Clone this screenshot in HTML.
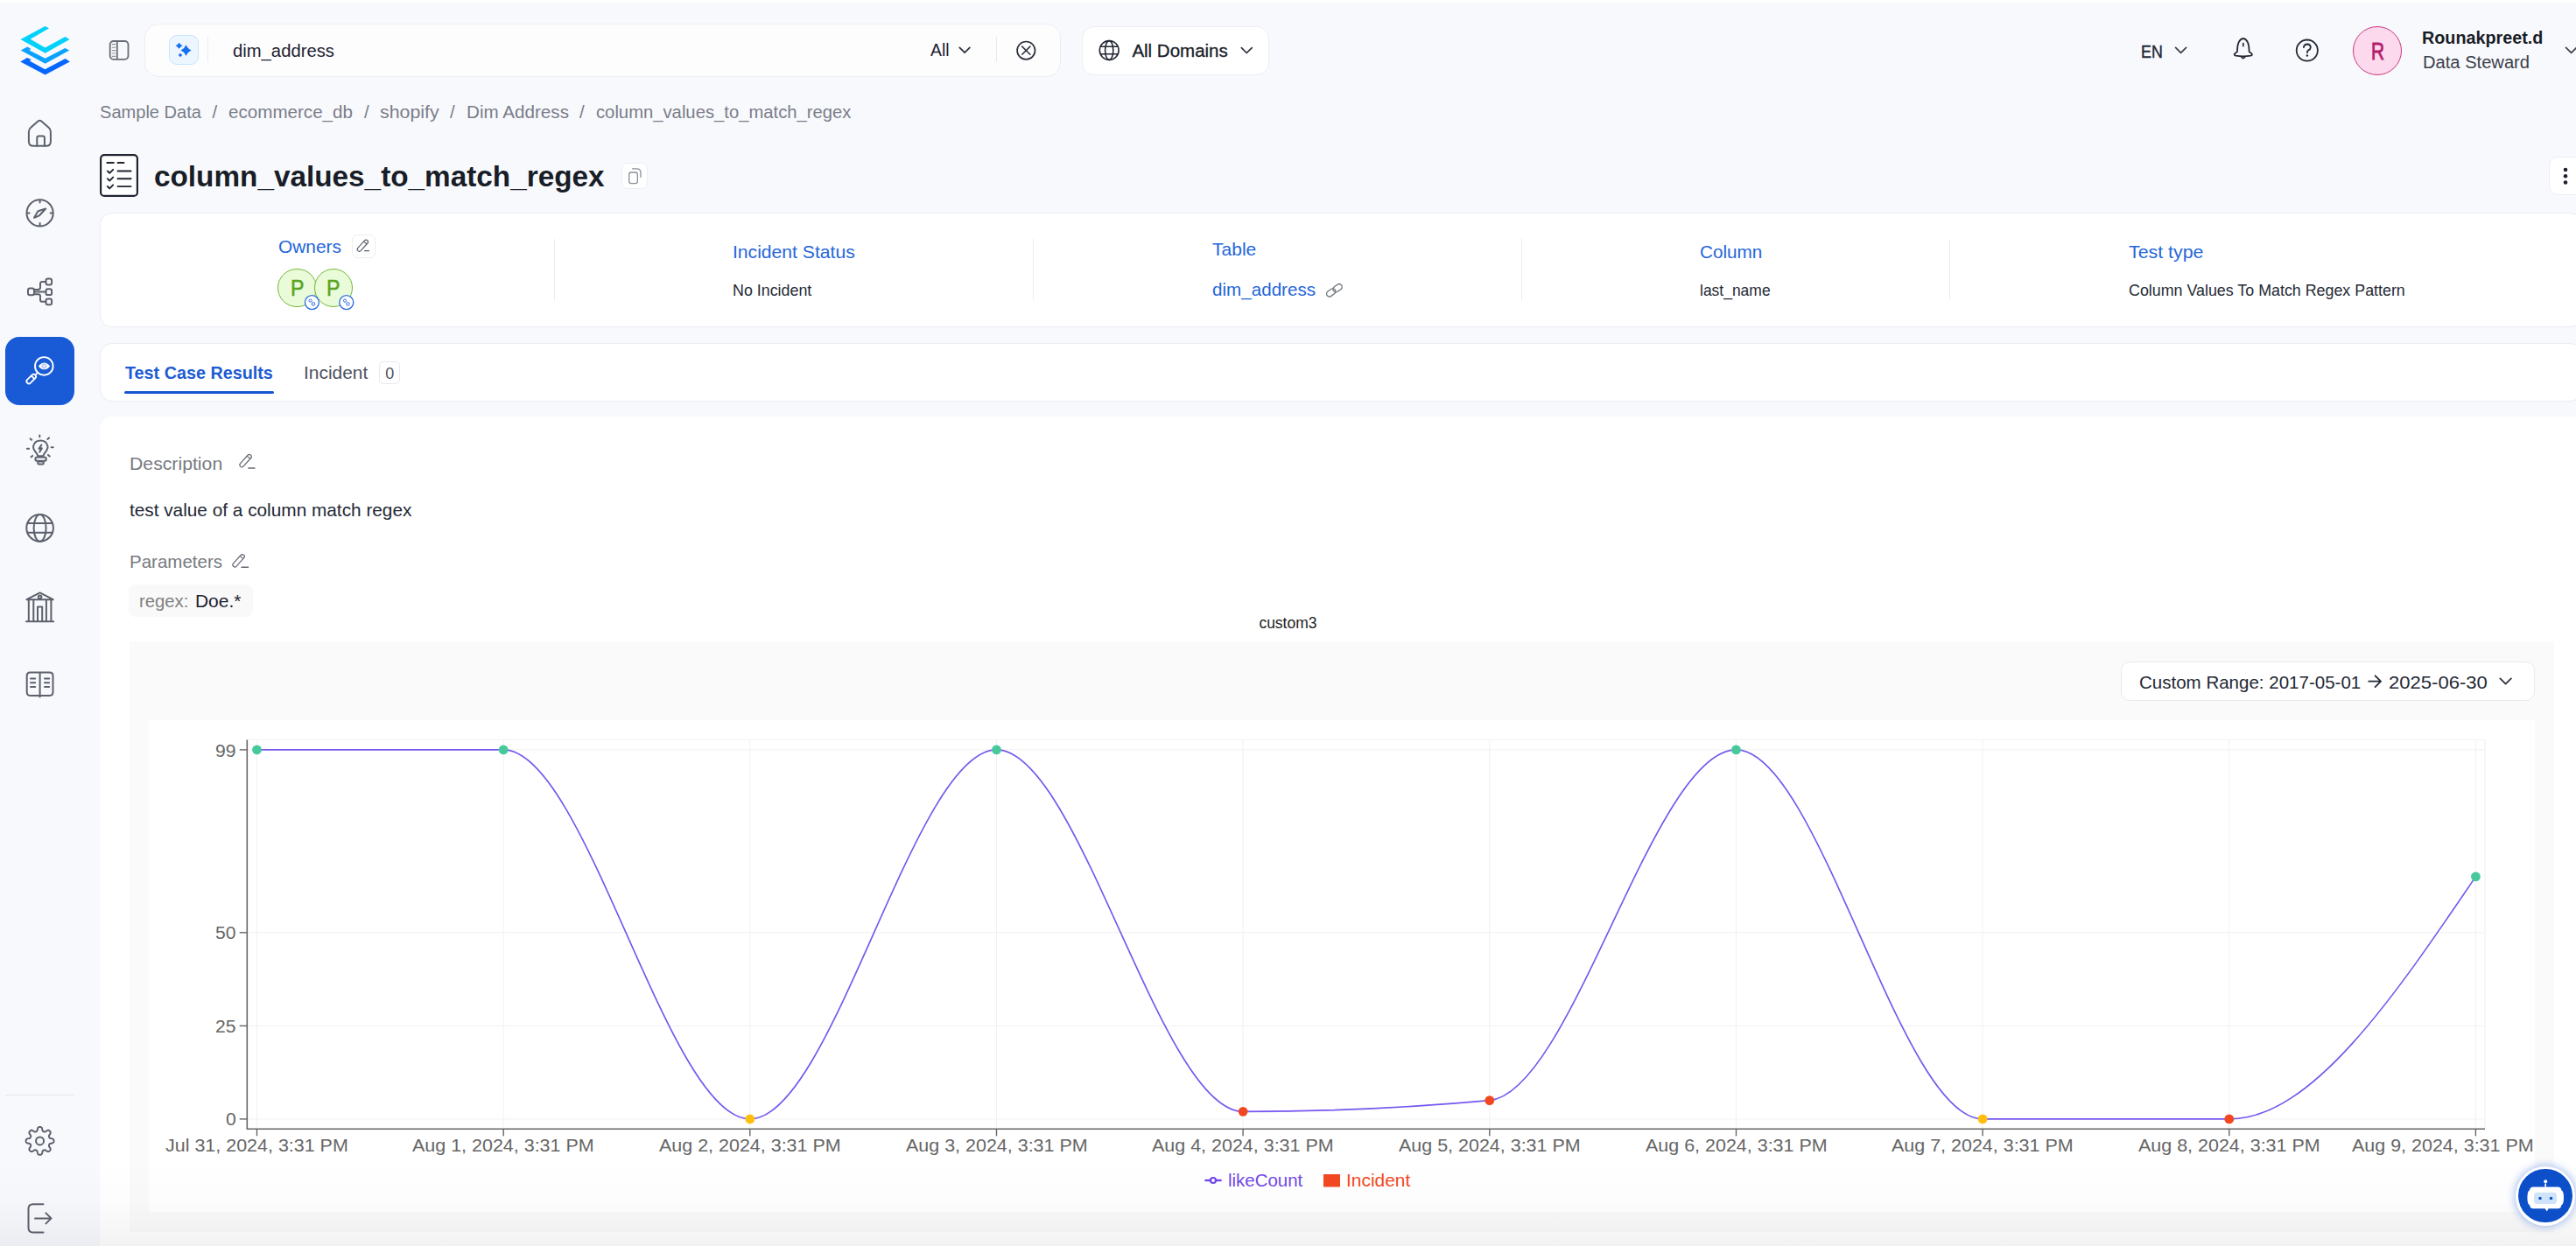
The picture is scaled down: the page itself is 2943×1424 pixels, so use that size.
<!DOCTYPE html>
<html><head><meta charset="utf-8">
<style>
*{box-sizing:border-box;margin:0;padding:0}
html,body{width:2943px;height:1424px;overflow:hidden}
body{position:relative;background:#f8f9fc;font-family:"Liberation Sans",sans-serif;color:#181d27}
.a{position:absolute}
.t{position:absolute;white-space:pre;line-height:1}
svg{position:absolute;overflow:visible}
.card{position:absolute;background:#fff;border:1px solid #eaecf2;border-radius:14px}
.ic{fill:none;stroke:#5c616c;stroke-width:2;stroke-linecap:round;stroke-linejoin:round}
</style></head><body>
<div class="a" style="left:0;top:0;width:2943px;height:3px;background:#fff"></div>

<!-- logo -->
<svg style="left:18px;top:25px" width="70" height="65" viewBox="0 0 1342 1246">
<polygon fill="#00d2fb" points="640,95 730,140 320,380 645,565 1080,325 1180,385 645,685 105,385"/>
<polygon fill="#0aa2fe" points="110,625 255,545 330,590 300,625 645,800 1080,575 1175,625 645,915"/>
<polygon fill="#0567fe" points="100,870 250,785 345,830 300,855 640,1040 1085,805 1185,870 645,1160"/>
</svg>
<!-- home -->
<svg style="left:0;top:0" width="100" height="100">
<path class="ic" d="M32.9,150.5 Q32.9,147.6 35.2,145.8 L43.2,138.7 Q45.4,136.9 47.6,138.7 L55.6,145.8 Q57.9,147.6 57.9,150.5 V161.8 Q57.9,166.8 52.9,166.8 H37.9 Q32.9,166.8 32.9,161.8 Z"/>
<path class="ic" d="M42.3,166.8 V157.4 Q42.3,155.4 44.3,155.4 H48.9 Q50.9,155.4 50.9,157.4 V166.8"/>
</svg>
<!-- compass -->
<svg style="left:0;top:0" width="100" height="100">
<circle class="ic" stroke-width="1.9" cx="45.6" cy="243.4" r="15.1"/>
<path class="ic" stroke-width="1.8" d="M45.6,228.8 v2.8 M45.6,255 v2.8 M31,243.4 h2.6 M57.6,243.4 h2.6"/>
<path class="ic" stroke-width="1.8" d="M39,248.8 L43.5,241.2 L52.2,238.5 L45,246.3 Z"/>
</svg>
<!-- lineage -->
<svg style="left:0;top:0" width="100" height="100">
<rect class="ic" stroke-width="1.9" x="32" y="329.6" width="7" height="7.6" rx="2.2"/>
<rect class="ic" stroke-width="1.9" x="52.5" y="318.5" width="6.6" height="6.9" rx="2.2"/>
<rect class="ic" stroke-width="1.9" x="52.5" y="330.2" width="6.6" height="6.9" rx="2.2"/>
<rect class="ic" stroke-width="1.9" x="52.5" y="341.4" width="6.6" height="6.9" rx="2.2"/>
<path class="ic" stroke-width="1.9" d="M39.4,331 H43.6 Q46,331 46,328.6 V324.4 Q46,322 48.4,322 H52 M39.4,333.6 H52 M39.4,336.2 H43.6 Q46,336.2 46,338.6 V342.4 Q46,344.8 48.4,344.8 H52"/>
</svg>
<!-- active -->
<div class="a" style="left:6px;top:385px;width:79px;height:78px;background:#195bd6;border-radius:16px"></div>
<svg style="left:0;top:0" width="100" height="100">
<circle cx="50.3" cy="418.4" r="10.3" fill="none" stroke="#fff" stroke-width="1.9"/>
<path d="M43.2,425.6 L40.8,428" stroke="#fff" stroke-width="1.9"/>
<g transform="translate(35.7,433.1) rotate(-45)" fill="none" stroke="#fff" stroke-width="1.8">
<rect x="-6.4" y="-2.6" width="12.8" height="5.2" rx="2.6"/>
<path d="M2.6,-2.6 V2.6"/>
</g>
<path d="M43.8,418.4 Q50.5,410.6 57.2,418.4 Q50.5,426.2 43.8,418.4 Z" fill="#fff"/>
<circle cx="50.5" cy="418.4" r="3.1" fill="#b9cff4"/>
<circle cx="50.5" cy="418.4" r="1.3" fill="#e8f0fc"/>
</svg>
<!-- bulb -->
<svg style="left:0;top:0" width="100" height="100">
<path class="ic" stroke-width="1.9" d="M43.3,521.2 Q42,518 39.6,515.2 Q37.6,512.6 38.2,509.6 Q39.6,503.4 46.3,503.4 Q53,503.4 54.4,509.6 Q55,512.6 53,515.2 Q50.6,518 49.3,521.2 Z"/>
<rect class="ic" stroke-width="1.9" x="40.4" y="522.5" width="12.4" height="4.3" rx="2.15"/>
<rect class="ic" stroke-width="1.7" x="43.3" y="527.4" width="6.5" height="3" rx="1.2"/>
<path class="ic" stroke-width="1.6" d="M47.3,508.6 L44.5,512.7 L47.9,512.3 L45.3,516.4"/>
<path class="ic" stroke-width="1.9" d="M45.3,497.6 V499.2 M34.6,501.4 L36.2,502.8 M56,500.4 L54.3,501.9 M30.9,512.8 H33.1 M58.6,511.2 H60.8 M35.6,522.3 L37.1,520.9 M55,519.9 L56.7,521.4"/>
</svg>
<!-- globe -->
<svg style="left:0;top:0" width="100" height="100">
<circle class="ic" cx="45.6" cy="603.4" r="15.3"/>
<ellipse class="ic" cx="45.6" cy="603.4" rx="7" ry="15.3"/>
<path class="ic" d="M31.5,598 H59.7 M31.5,608.8 H59.7"/>
</svg>
<!-- bank -->
<svg style="left:0;top:0" width="100" height="100">
<path class="ic" d="M30.5,685.2 L45.6,677.4 L60.7,685.2 Z M30,710.3 H61.2 M32.8,686 V710 M58.4,686 V710 M38.3,686 V710 M52.9,686 V710 M43,710 V693.5 H48.2 V710"/>
<circle class="ic" stroke-width="1.7" cx="45.6" cy="682.3" r="1.8"/>
</svg>
<!-- book -->
<svg style="left:0;top:0" width="100" height="100">
<path class="ic" d="M45.6,768.6 H34.6 Q30.7,768.6 30.7,772.5 V791 Q30.7,794.9 34.6,794.9 H56.6 Q60.5,794.9 60.5,791 V772.5 Q60.5,768.6 56.6,768.6 H45.6 V796.5"/>
<path class="ic" stroke-width="1.7" d="M35,775.5 h5.2 M35,780.3 h5.2 M35,785.1 h5.2 M51,775.5 h5.2 M51,780.3 h5.2 M51,785.1 h5.2"/>
</svg>
<!-- divider -->
<div class="a" style="left:6px;top:1251px;width:79px;height:1px;background:#e3e5ea"></div>
<!-- gear -->
<svg style="left:0;top:0" width="100" height="100">
<path class="ic" stroke-width="1.9" d="M45.56,1287.95 L45.98,1287.97 L46.39,1288.03 L46.80,1288.15 L47.19,1288.36 L47.56,1288.71 L47.88,1289.27 L48.13,1290.03 L48.32,1290.90 L48.50,1291.67 L48.69,1292.23 L48.90,1292.61 L49.14,1292.87 L49.40,1293.05 L49.67,1293.20 L49.94,1293.32 L50.22,1293.43 L50.51,1293.51 L50.83,1293.56 L51.18,1293.55 L51.60,1293.44 L52.13,1293.17 L52.80,1292.75 L53.55,1292.28 L54.27,1291.91 L54.89,1291.74 L55.39,1291.75 L55.82,1291.89 L56.19,1292.09 L56.53,1292.34 L56.84,1292.62 L57.12,1292.93 L57.37,1293.27 L57.57,1293.64 L57.71,1294.07 L57.72,1294.57 L57.55,1295.19 L57.18,1295.91 L56.71,1296.66 L56.29,1297.33 L56.02,1297.86 L55.91,1298.28 L55.90,1298.63 L55.95,1298.95 L56.03,1299.24 L56.14,1299.52 L56.26,1299.79 L56.41,1300.06 L56.59,1300.32 L56.85,1300.56 L57.23,1300.77 L57.79,1300.96 L58.56,1301.14 L59.43,1301.33 L60.19,1301.58 L60.75,1301.90 L61.10,1302.27 L61.31,1302.66 L61.43,1303.07 L61.49,1303.48 L61.51,1303.90 L61.49,1304.32 L61.43,1304.73 L61.31,1305.14 L61.10,1305.53 L60.75,1305.90 L60.19,1306.22 L59.43,1306.47 L58.56,1306.66 L57.79,1306.84 L57.23,1307.03 L56.85,1307.24 L56.59,1307.48 L56.41,1307.74 L56.26,1308.01 L56.14,1308.28 L56.03,1308.56 L55.95,1308.85 L55.90,1309.17 L55.91,1309.52 L56.02,1309.94 L56.29,1310.47 L56.71,1311.14 L57.18,1311.89 L57.55,1312.61 L57.72,1313.23 L57.71,1313.73 L57.57,1314.16 L57.37,1314.53 L57.12,1314.87 L56.84,1315.18 L56.53,1315.46 L56.19,1315.71 L55.82,1315.91 L55.39,1316.05 L54.89,1316.06 L54.27,1315.89 L53.55,1315.52 L52.80,1315.05 L52.13,1314.63 L51.60,1314.36 L51.18,1314.25 L50.83,1314.24 L50.51,1314.29 L50.22,1314.37 L49.94,1314.48 L49.67,1314.60 L49.40,1314.75 L49.14,1314.93 L48.90,1315.19 L48.69,1315.57 L48.50,1316.13 L48.32,1316.90 L48.13,1317.77 L47.88,1318.53 L47.56,1319.09 L47.19,1319.44 L46.80,1319.65 L46.39,1319.77 L45.98,1319.83 L45.56,1319.85 L45.14,1319.83 L44.73,1319.77 L44.32,1319.65 L43.93,1319.44 L43.56,1319.09 L43.24,1318.53 L42.99,1317.77 L42.80,1316.90 L42.62,1316.13 L42.43,1315.57 L42.22,1315.19 L41.98,1314.93 L41.72,1314.75 L41.45,1314.60 L41.18,1314.48 L40.90,1314.37 L40.61,1314.29 L40.29,1314.24 L39.94,1314.25 L39.52,1314.36 L38.99,1314.63 L38.32,1315.05 L37.57,1315.52 L36.85,1315.89 L36.23,1316.06 L35.73,1316.05 L35.30,1315.91 L34.93,1315.71 L34.59,1315.46 L34.28,1315.18 L34.00,1314.87 L33.75,1314.53 L33.55,1314.16 L33.41,1313.73 L33.40,1313.23 L33.57,1312.61 L33.94,1311.89 L34.41,1311.14 L34.83,1310.47 L35.10,1309.94 L35.21,1309.52 L35.22,1309.17 L35.17,1308.85 L35.09,1308.56 L34.98,1308.28 L34.86,1308.01 L34.71,1307.74 L34.53,1307.48 L34.27,1307.24 L33.89,1307.03 L33.33,1306.84 L32.56,1306.66 L31.69,1306.47 L30.93,1306.22 L30.37,1305.90 L30.02,1305.53 L29.81,1305.14 L29.69,1304.73 L29.63,1304.32 L29.61,1303.90 L29.63,1303.48 L29.69,1303.07 L29.81,1302.66 L30.02,1302.27 L30.37,1301.90 L30.93,1301.58 L31.69,1301.33 L32.56,1301.14 L33.33,1300.96 L33.89,1300.77 L34.27,1300.56 L34.53,1300.32 L34.71,1300.06 L34.86,1299.79 L34.98,1299.52 L35.09,1299.24 L35.17,1298.95 L35.22,1298.63 L35.21,1298.28 L35.10,1297.86 L34.83,1297.33 L34.41,1296.66 L33.94,1295.91 L33.57,1295.19 L33.40,1294.57 L33.41,1294.07 L33.55,1293.64 L33.75,1293.27 L34.00,1292.93 L34.28,1292.62 L34.59,1292.34 L34.93,1292.09 L35.30,1291.89 L35.73,1291.75 L36.23,1291.74 L36.85,1291.91 L37.57,1292.28 L38.32,1292.75 L38.99,1293.17 L39.52,1293.44 L39.94,1293.55 L40.29,1293.56 L40.61,1293.51 L40.90,1293.43 L41.18,1293.32 L41.45,1293.20 L41.72,1293.05 L41.98,1292.87 L42.22,1292.61 L42.43,1292.23 L42.62,1291.67 L42.80,1290.90 L42.99,1290.03 L43.24,1289.27 L43.56,1288.71 L43.93,1288.36 L44.32,1288.15 L44.73,1288.03 L45.14,1287.97 Z"/>
<circle class="ic" stroke-width="1.9" cx="45.56" cy="1303.9" r="4.5"/>
</svg>
<!-- logout -->
<svg style="left:0;top:0" width="100" height="100">
<path class="ic" d="M49.5,1376.2 H37.8 Q32.5,1376.2 32.5,1381.5 V1403 Q32.5,1408.5 37.8,1408.5 H49.5 M40,1392.4 H58.3 M52.4,1386.4 L58.5,1392.4 L52.4,1398.4"/>
</svg>

<!-- sidebar toggle -->
<svg style="left:0;top:0" width="10" height="10">
<rect x="125.7" y="47" width="20.8" height="20.8" rx="4" fill="none" stroke="#686c76" stroke-width="1.8"/>
<path d="M133.8,47 V67.8" stroke="#686c76" stroke-width="1.8"/>
<path d="M127.8,50.6 h4.5 M127.8,54.2 h4.5 M127.8,57.6 h4.5 M127.8,61 h4.5 M127.8,64.4 h4.5" stroke="#8e929a" stroke-width="1.1"/>
</svg>
<!-- search box -->
<div class="a" style="left:165px;top:27px;width:1047px;height:61px;background:#fdfdfe;border:1px solid #eceef4;border-radius:16px"></div>
<div class="a" style="left:193px;top:40px;width:34px;height:34px;background:#edf6ff;border:1px solid #c6e5fd;border-radius:9px"></div>
<svg style="left:0;top:0" width="10" height="10">
<path fill="#1570ef" d="M212.5,51.300000000000004 Q214.36,55.71 218.7,57.6 Q214.36,59.46 212.5,63.800000000000004 Q210.73,59.46 206.6,57.6 Q210.73,55.71 212.5,51.300000000000004 Z"/>
<path fill="#1570ef" d="M204.6,48.8 Q205.91,51.18 208.7,52.3 Q205.91,53.39 204.6,55.699999999999996 Q203.29,53.39 200.5,52.3 Q203.29,51.18 204.6,48.8 Z"/>
<path fill="#1570ef" d="M206,60.8 L208.2,63 L206,65.2 L203.8,63 Z"/>
</svg>
<div class="a" style="left:237px;top:42px;width:1px;height:29px;background:#ebedf3"></div>
<span class="t" style="left:266.3px;top:48.3px;font-size:20.5px;font-weight:400;color:#1d2230;transform:scaleX(0.9874);transform-origin:0 0;">dim_address</span>
<span class="t" style="left:1063.1px;top:47.1px;font-size:20.5px;font-weight:400;color:#1d2230;transform:scaleX(0.9475);transform-origin:0 0;">All</span>
<svg style="left:0;top:0" width="10" height="10">
<path d="M1096.3,54.4 L1102.1,60.2 L1107.9,54.4" fill="none" stroke="#2a2f3a" stroke-width="1.7" stroke-linecap="round" stroke-linejoin="round"/>
</svg>
<div class="a" style="left:1138px;top:42px;width:1px;height:29px;background:#e6e9f2"></div>
<svg style="left:0;top:0" width="10" height="10">
<circle cx="1172.3" cy="57.7" r="10.2" fill="none" stroke="#2a2f3a" stroke-width="1.7"/>
<path d="M1167.7,53.1 L1176.9,62.3 M1176.9,53.1 L1167.7,62.3" stroke="#2a2f3a" stroke-width="1.5" stroke-linecap="round"/>
</svg>
<!-- All domains -->
<div class="a" style="left:1236px;top:30px;width:214px;height:56px;background:#fff;border:1px solid #eceef4;border-radius:14px"></div>
<svg style="left:0;top:0" width="10" height="10">
<g fill="none" stroke="#222733" stroke-width="1.6">
<circle cx="1267.2" cy="57.5" r="10.9"/>
<ellipse cx="1267.2" cy="57.5" rx="4.6" ry="10.9"/>
<path d="M1257,53.3 H1277.4 M1257,61.7 H1277.4"/>
</g>
<path d="M1418.4,54.6 L1424.3,60.5 L1430.2,54.6" fill="none" stroke="#2a2f3a" stroke-width="1.7" stroke-linecap="round" stroke-linejoin="round"/>
</svg>
<span class="t" style="left:1293.4px;top:48.1px;font-size:20.5px;font-weight:400;color:#181d27;-webkit-text-stroke:0.3px #181d27;">All Domains</span>
<!-- right side -->
<span class="t" style="left:2446.0px;top:48.0px;font-size:21px;font-weight:400;color:#232835;transform:scaleX(0.8497);transform-origin:0 0;-webkit-text-stroke:0.45px #232835;">EN</span>
<svg style="left:0;top:0" width="10" height="10">
<path d="M2485.6,54.3 L2491.6,60.3 L2497.6,54.3" fill="none" stroke="#3a3f4b" stroke-width="1.7" stroke-linecap="round" stroke-linejoin="round"/>
<path d="M2556,59 Q2555.8,45.3 2562.8,43.8 Q2569.8,45.3 2569.6,59 L2572.8,61.6 Q2573.6,63.1 2571.4,63.6 Q2562.8,65 2554.2,63.6 Q2552,63.1 2552.8,61.6 Z" fill="none" stroke="#232835" stroke-width="1.7" stroke-linejoin="round"/>
<path d="M2560.4,64.4 Q2562.8,68.8 2565.2,64.4" fill="none" stroke="#232835" stroke-width="1.7"/>
<path d="M2562.8,49.6 V52.6" stroke="#232835" stroke-width="1.7" stroke-linecap="round"/>
<circle cx="2635.8" cy="57.6" r="12.1" fill="none" stroke="#232835" stroke-width="1.8"/>
<path d="M2631.9,54.2 Q2632.3,50.5 2636,50.5 Q2639.7,50.6 2639.8,53.9 Q2639.8,56.2 2637.3,57.4 Q2635.9,58.2 2635.9,60.2" fill="none" stroke="#232835" stroke-width="1.8" stroke-linecap="round"/>
<circle cx="2635.9" cy="63.5" r="1.2" fill="#232835"/>
</svg>
<div class="a" style="left:2688px;top:30px;width:56px;height:56px;border-radius:50%;background:#fdd9ee;border:1.5px solid #c9367f"></div>
<span class="t" style="left:2708.8px;top:44.3px;font-size:28.5px;font-weight:400;color:#b21f6c;transform:scaleX(0.7332);transform-origin:0 0;-webkit-text-stroke:0.9px #b21f6c;">R</span>
<span class="t" style="left:2766.8px;top:32.9px;font-size:20px;font-weight:700;color:#181d27;transform:scaleX(0.9876);transform-origin:0 0;">Rounakpreet.d</span>
<span class="t" style="left:2767.8px;top:60.5px;font-size:20px;font-weight:400;color:#3b404c;transform:scaleX(1.0068);transform-origin:0 0;">Data Steward</span>
<svg style="left:0;top:0" width="10" height="10">
<path d="M2931.5,54.3 L2937.6,60.4 L2943.7,54.3" fill="none" stroke="#3a3f4b" stroke-width="1.7" stroke-linecap="round" stroke-linejoin="round"/>
</svg>
<!-- breadcrumb -->
<span class="t" style="left:114.0px;top:118.1px;font-size:20.5px;font-weight:400;color:#7a7d8a;transform:scaleX(0.9788);transform-origin:0 0;">Sample Data</span>
<span class="t" style="left:242.5px;top:118.1px;font-size:20.5px;font-weight:400;color:#7a7d8a;">/</span>
<span class="t" style="left:261.0px;top:118.1px;font-size:20.5px;font-weight:400;color:#7a7d8a;transform:scaleX(1.0050);transform-origin:0 0;">ecommerce_db</span>
<span class="t" style="left:416.0px;top:118.1px;font-size:20.5px;font-weight:400;color:#7a7d8a;">/</span>
<span class="t" style="left:434.0px;top:118.1px;font-size:20.5px;font-weight:400;color:#7a7d8a;transform:scaleX(1.0420);transform-origin:0 0;">shopify</span>
<span class="t" style="left:514.0px;top:118.1px;font-size:20.5px;font-weight:400;color:#7a7d8a;">/</span>
<span class="t" style="left:533.0px;top:118.1px;font-size:20.5px;font-weight:400;color:#7a7d8a;transform:scaleX(1.0067);transform-origin:0 0;">Dim Address</span>
<span class="t" style="left:662.0px;top:118.1px;font-size:20.5px;font-weight:400;color:#7a7d8a;">/</span>
<span class="t" style="left:681.0px;top:118.1px;font-size:20.5px;font-weight:400;color:#7a7d8a;transform:scaleX(0.9873);transform-origin:0 0;">column_values_to_match_regex</span>

<!-- title -->
<svg style="left:0;top:0" width="10" height="10">
<rect x="115.1" y="177.1" width="41.8" height="46.8" rx="4" fill="#fff" stroke="#1f2430" stroke-width="2.2"/>
<path d="M122.3,186 h7.6 M134.5,186 h7" stroke="#1f2430" stroke-width="1.9" stroke-linecap="round"/>
<path d="M122.8,195.4 l2.4,2.4 l4,-4 M122.8,204.2 l2.4,2.4 l4,-4 M122.8,213 l2.4,2.4 l4,-4" fill="none" stroke="#1f2430" stroke-width="1.9" stroke-linecap="round" stroke-linejoin="round"/>
<path d="M134.5,195.5 H149.6 M134.5,204.3 H149.6 M134.5,213.1 H149.6" stroke="#1f2430" stroke-width="1.9" stroke-linecap="round"/>
</svg>
<span class="t" style="left:176.0px;top:183.8px;font-size:34px;font-weight:700;color:#181d27;transform:scaleX(0.9795);transform-origin:0 0;">column_values_to_match_regex</span>
<div class="a" style="left:710px;top:186px;width:30px;height:30px;background:#fff;border:1px solid #eceef4;border-radius:7px"></div>
<svg style="left:0;top:0" width="10" height="10">
<rect x="718.7" y="197" width="9.6" height="12.6" rx="2.4" fill="none" stroke="#8a8f99" stroke-width="1.3"/>
<path d="M722.6,192.9 H727.5 Q732,192.9 732,197.4 V202.4" fill="none" stroke="#8a8f99" stroke-width="1.3" stroke-linecap="round"/>
</svg>
<!-- more button -->
<div class="a" style="left:2912px;top:179px;width:60px;height:44px;background:#fff;border:1px solid #eceef4;border-radius:10px"></div>
<svg style="left:0;top:0" width="10" height="10">
<circle cx="2931" cy="194" r="2.3" fill="#1d2230"/><circle cx="2931" cy="201.2" r="2.3" fill="#1d2230"/><circle cx="2931" cy="208.5" r="2.3" fill="#1d2230"/>
</svg>

<!-- INFO CARD -->
<div class="card" style="left:114px;top:243px;width:2836px;height:131px"></div>
<span class="t" style="left:318.0px;top:270.6px;font-size:21px;font-weight:400;color:#2566da;transform:scaleX(0.9950);transform-origin:0 0;">Owners</span>
<div class="a" style="left:402px;top:268px;width:27px;height:27px;background:#fff;border:1px solid #eceef3;border-radius:6px"></div>
<svg style="left:0;top:0" width="10" height="10">
<g transform="translate(414.4,280.7) rotate(-48)"><rect x="-8.0" y="-2.3" width="16" height="4.6" rx="2.3" fill="none" stroke="#5a5f6b" stroke-width="1.15"/><path d="M4.4,-2.3 V2.3" stroke="#5a5f6b" stroke-width="1.15"/></g><path d="M416.6,286.6 H421.6" stroke="#5a5f6b" stroke-width="1.3499999999999999" stroke-linecap="round"/>
</svg>
<div class="a" style="left:317.3px;top:307px;width:44.3px;height:44.3px;border-radius:50%;background:#e9fbd9;border:1.3px solid #74b83a"></div>
<div class="a" style="left:358.8px;top:307px;width:44.3px;height:44.3px;border-radius:50%;background:#e9fbd9;border:1.3px solid #74b83a"></div>
<span class="t" style="left:331.8px;top:317.2px;font-size:25px;font-weight:400;color:#5aa41f;transform:scaleX(0.9288);transform-origin:0 0;-webkit-text-stroke:0.5px #5aa41f;">P</span>
<span class="t" style="left:373.3px;top:317.2px;font-size:25px;font-weight:400;color:#5aa41f;transform:scaleX(0.9288);transform-origin:0 0;-webkit-text-stroke:0.5px #5aa41f;">P</span>
<svg style="left:0;top:0" width="10" height="10">
<g fill="#fff" stroke="#2b6be0" stroke-width="1.3">
<circle cx="356.4" cy="345.6" r="8"/><circle cx="395.8" cy="345.6" r="8"/>
</g>
<g fill="none" stroke="#2b6be0" stroke-width="1">
<circle cx="354.6" cy="343.6" r="1.6"/><circle cx="358" cy="347.4" r="1.8"/>
<circle cx="394" cy="343.6" r="1.6"/><circle cx="397.4" cy="347.4" r="1.8"/>
</g>
</svg>
<div class="a" style="left:633px;top:273px;width:1px;height:70px;background:#eaecf3"></div>
<span class="t" style="left:837.4px;top:276.9px;font-size:21px;font-weight:400;color:#2566da;transform:scaleX(1.0056);transform-origin:0 0;">Incident Status</span>
<span class="t" style="left:837.4px;top:324.0px;font-size:17.8px;font-weight:400;color:#252a35;transform:scaleX(1.0039);transform-origin:0 0;">No Incident</span>
<div class="a" style="left:1180px;top:273px;width:1px;height:70px;background:#eaecf3"></div>
<span class="t" style="left:1385.1px;top:274.2px;font-size:21px;font-weight:400;color:#2566da;">Table</span>
<span class="t" style="left:1385.1px;top:321.4px;font-size:20.6px;font-weight:400;color:#2566da;">dim_address</span>
<svg style="left:0;top:0" width="10" height="10">
<g transform="translate(1524.4,331.8) rotate(-35)" fill="none" stroke="#6f737d" stroke-width="1.3">
<rect x="-10" y="-3.3" width="11" height="6.6" rx="3.3"/>
<rect x="-1" y="-3.3" width="11" height="6.6" rx="3.3"/>
</g>
</svg>
<div class="a" style="left:1738px;top:273px;width:1px;height:70px;background:#eaecf3"></div>
<span class="t" style="left:1942.4px;top:276.9px;font-size:21px;font-weight:400;color:#2566da;transform:scaleX(0.9851);transform-origin:0 0;">Column</span>
<span class="t" style="left:1942.4px;top:323.8px;font-size:17.8px;font-weight:400;color:#252a35;transform:scaleX(0.9824);transform-origin:0 0;">last_name</span>
<div class="a" style="left:2227px;top:273px;width:1px;height:70px;background:#eaecf3"></div>
<span class="t" style="left:2431.6px;top:276.8px;font-size:21px;font-weight:400;color:#2566da;transform:scaleX(1.0161);transform-origin:0 0;">Test type</span>
<span class="t" style="left:2431.6px;top:323.7px;font-size:17.8px;font-weight:400;color:#252a35;transform:scaleX(1.0037);transform-origin:0 0;">Column Values To Match Regex Pattern</span>

<!-- TABS CARD -->
<div class="card" style="left:114px;top:392px;width:2836px;height:67px"></div>
<span class="t" style="left:143.2px;top:415.8px;font-size:20.5px;font-weight:700;color:#1d5bd2;transform:scaleX(0.9641);transform-origin:0 0;">Test Case Results</span>
<div class="a" style="left:142.2px;top:446.8px;width:171.2px;height:3.5px;background:#1655d2;border-radius:1.5px"></div>
<span class="t" style="left:347.0px;top:415.3px;font-size:21px;font-weight:400;color:#4b5160;transform:scaleX(0.9964);transform-origin:0 0;">Incident</span>
<div class="a" style="left:433px;top:412.5px;width:24px;height:26px;background:#fff;border:1px solid #e7e9ef;border-radius:5px"></div>
<span class="t" style="left:440.2px;top:417.6px;font-size:18px;font-weight:400;color:#4b5160;">0</span>

<!-- MAIN CARD -->
<div class="a" style="left:114px;top:476px;width:2860px;height:1000px;background:#fff;border-radius:16px 0 0 0"></div>
<span class="t" style="left:148.3px;top:519.0px;font-size:21px;font-weight:400;color:#777a80;transform:scaleX(1.0110);transform-origin:0 0;">Description</span>
<svg style="left:0;top:0" width="10" height="10">
<g transform="translate(280.6,526.6) rotate(-48)"><rect x="-8.75" y="-2.4" width="17.5" height="4.8" rx="2.4" fill="none" stroke="#626773" stroke-width="1.2"/><path d="M5.15,-2.4 V2.4" stroke="#626773" stroke-width="1.2"/></g><path d="M283.8,535 H291" stroke="#626773" stroke-width="1.4" stroke-linecap="round"/>
<g transform="translate(272.6,640.8) rotate(-48)"><rect x="-8.75" y="-2.4" width="17.5" height="4.8" rx="2.4" fill="none" stroke="#626773" stroke-width="1.2"/><path d="M5.15,-2.4 V2.4" stroke="#626773" stroke-width="1.2"/></g><path d="M276,648.2 H283.6" stroke="#626773" stroke-width="1.4" stroke-linecap="round"/>
</svg>
<span class="t" style="left:147.9px;top:572.9px;font-size:20.8px;font-weight:400;color:#232834;">test value of a column match regex</span>
<span class="t" style="left:148.2px;top:630.8px;font-size:21px;font-weight:400;color:#777a80;transform:scaleX(0.9765);transform-origin:0 0;">Parameters</span>
<div class="a" style="left:147.3px;top:667.6px;width:142px;height:37px;background:#f9f9f9;border-radius:8px"></div>
<span class="t" style="left:159.1px;top:675.8px;font-size:21px;font-weight:400;color:#808080;transform:scaleX(0.9662);transform-origin:0 0;">regex:</span>
<span class="t" style="left:222.9px;top:675.8px;font-size:21px;font-weight:400;color:#1d2230;">Doe.*</span>
<span class="t" style="left:1438.4px;top:704.0px;font-size:17.5px;font-weight:400;color:#222;">custom3</span>

<div class="a" style="left:148px;top:733px;width:2770px;height:675px;background:#fafafa"></div>
<div class="a" style="left:2422.5px;top:755.7px;width:473.5px;height:45px;background:#fff;border:1px solid #e8eaf0;border-radius:10px"></div>
<span class="t" style="left:2444.4px;top:768.6px;font-size:21px;font-weight:400;color:#232834;transform:scaleX(0.9770);transform-origin:0 0;">Custom Range: 2017-05-01</span>
<span class="t" style="left:2728.7px;top:768.6px;font-size:21px;font-weight:400;color:#232834;transform:scaleX(1.0501);transform-origin:0 0;">2025-06-30</span>
<svg style="left:0;top:0" width="10" height="10">
<path d="M2706.2,778.7 H2720 M2713.6,772.3 L2720,778.7 L2713.6,785.1" fill="none" stroke="#232834" stroke-width="1.8" stroke-linecap="round" stroke-linejoin="round"/>
<path d="M2856.3,775.3 L2862.6,781.6 L2868.9,775.3" fill="none" stroke="#2a2f3a" stroke-width="1.7" stroke-linecap="round" stroke-linejoin="round"/>
</svg>
<div class="a" style="left:170px;top:823px;width:2726px;height:562px;background:#fff"></div>
<svg style="left:0;top:0" width="10" height="10">
<path d="M282.5,856.9 H2839" stroke="#f1f1f1" stroke-width="1"/><path d="M282.5,1065.8 H2839" stroke="#f1f1f1" stroke-width="1"/><path d="M282.5,1172.4 H2839" stroke="#f1f1f1" stroke-width="1"/><path d="M282.5,1278.9 H2839" stroke="#f1f1f1" stroke-width="1"/><path d="M282.5,845.5 H2839 V1290" fill="none" stroke="#f1f1f1" stroke-width="1"/><path d="M293.5,845.5 V1290" stroke="#f1f1f1" stroke-width="1"/><path d="M575.2,845.5 V1290" stroke="#f1f1f1" stroke-width="1"/><path d="M856.8,845.5 V1290" stroke="#f1f1f1" stroke-width="1"/><path d="M1138.5,845.5 V1290" stroke="#f1f1f1" stroke-width="1"/><path d="M1420.1,845.5 V1290" stroke="#f1f1f1" stroke-width="1"/><path d="M1701.8,845.5 V1290" stroke="#f1f1f1" stroke-width="1"/><path d="M1983.5,845.5 V1290" stroke="#f1f1f1" stroke-width="1"/><path d="M2265.1,845.5 V1290" stroke="#f1f1f1" stroke-width="1"/><path d="M2546.8,845.5 V1290" stroke="#f1f1f1" stroke-width="1"/><path d="M2828.4,845.5 V1290" stroke="#f1f1f1" stroke-width="1"/>
<path d="M282.3,845.4 V1290.3 H2839" fill="none" stroke="#666" stroke-width="1.6"/><path d="M273.7,856.9 H282.3" stroke="#666" stroke-width="1.4"/><path d="M273.7,1065.8 H282.3" stroke="#666" stroke-width="1.4"/><path d="M273.7,1172.4 H282.3" stroke="#666" stroke-width="1.4"/><path d="M273.7,1278.9 H282.3" stroke="#666" stroke-width="1.4"/><path d="M293.5,1290.3 V1298.3" stroke="#666" stroke-width="1.4"/><path d="M575.2,1290.3 V1298.3" stroke="#666" stroke-width="1.4"/><path d="M856.8,1290.3 V1298.3" stroke="#666" stroke-width="1.4"/><path d="M1138.5,1290.3 V1298.3" stroke="#666" stroke-width="1.4"/><path d="M1420.1,1290.3 V1298.3" stroke="#666" stroke-width="1.4"/><path d="M1701.8,1290.3 V1298.3" stroke="#666" stroke-width="1.4"/><path d="M1983.5,1290.3 V1298.3" stroke="#666" stroke-width="1.4"/><path d="M2265.1,1290.3 V1298.3" stroke="#666" stroke-width="1.4"/><path d="M2546.8,1290.3 V1298.3" stroke="#666" stroke-width="1.4"/><path d="M2828.4,1290.3 V1298.3" stroke="#666" stroke-width="1.4"/>
<path d="M293.50,856.90C387.39,856.90,481.27,856.90,575.16,856.90C669.05,856.90,762.93,1278.90,856.82,1278.90C950.71,1278.90,1044.59,856.90,1138.48,856.90C1232.37,856.90,1326.25,1270.37,1420.14,1270.37C1514.03,1270.37,1607.91,1266.11,1701.80,1257.59C1795.69,1249.06,1889.57,856.90,1983.46,856.90C2077.35,856.90,2171.23,1278.90,2265.12,1278.90C2359.01,1278.90,2452.89,1278.90,2546.78,1278.90C2640.67,1278.90,2734.55,1140.36,2828.44,1001.83" fill="none" stroke="#7658ee" stroke-width="1.65"/>
<circle cx="293.50" cy="856.90" r="5.4" fill="#48c99c"/><circle cx="575.16" cy="856.90" r="5.4" fill="#48c99c"/><circle cx="856.82" cy="1278.90" r="5.4" fill="#ffbe0e"/><circle cx="1138.48" cy="856.90" r="5.4" fill="#48c99c"/><circle cx="1420.14" cy="1270.37" r="5.4" fill="#f24822"/><circle cx="1701.80" cy="1257.59" r="5.4" fill="#f24822"/><circle cx="1983.46" cy="856.90" r="5.4" fill="#48c99c"/><circle cx="2265.12" cy="1278.90" r="5.4" fill="#ffbe0e"/><circle cx="2546.78" cy="1278.90" r="5.4" fill="#f24822"/><circle cx="2828.44" cy="1001.83" r="5.4" fill="#48c99c"/>
<path d="M1376.4,1349 H1395.6" stroke="#7147e8" stroke-width="2.4"/>
<circle cx="1386" cy="1349" r="3" fill="#fff" stroke="#7147e8" stroke-width="2.2"/>
<rect x="1512" y="1342" width="19" height="14.5" fill="#f24822"/>
</svg>
<span class="t" style="left:246.1px;top:847.6px;font-size:20.5px;font-weight:400;color:#666;transform:scaleX(1.0300);transform-origin:0 0;">99</span>
<span class="t" style="left:246.1px;top:1056.1px;font-size:20.5px;font-weight:400;color:#666;transform:scaleX(1.0300);transform-origin:0 0;">50</span>
<span class="t" style="left:246.1px;top:1162.7px;font-size:20.5px;font-weight:400;color:#666;transform:scaleX(1.0300);transform-origin:0 0;">25</span>
<span class="t" style="left:257.9px;top:1269.2px;font-size:20.5px;font-weight:400;color:#666;transform:scaleX(1.0300);transform-origin:0 0;">0</span>
<span class="t" style="left:189.1px;top:1298.7px;font-size:20.5px;font-weight:400;color:#666;transform:scaleX(1.0470);transform-origin:0 0;">Jul 31, 2024, 3:31 PM</span><span class="t" style="left:471.3px;top:1298.7px;font-size:20.5px;font-weight:400;color:#666;transform:scaleX(1.0470);transform-origin:0 0;">Aug 1, 2024, 3:31 PM</span><span class="t" style="left:753.0px;top:1298.7px;font-size:20.5px;font-weight:400;color:#666;transform:scaleX(1.0470);transform-origin:0 0;">Aug 2, 2024, 3:31 PM</span><span class="t" style="left:1034.7px;top:1298.7px;font-size:20.5px;font-weight:400;color:#666;transform:scaleX(1.0470);transform-origin:0 0;">Aug 3, 2024, 3:31 PM</span><span class="t" style="left:1316.3px;top:1298.7px;font-size:20.5px;font-weight:400;color:#666;transform:scaleX(1.0470);transform-origin:0 0;">Aug 4, 2024, 3:31 PM</span><span class="t" style="left:1598.0px;top:1298.7px;font-size:20.5px;font-weight:400;color:#666;transform:scaleX(1.0470);transform-origin:0 0;">Aug 5, 2024, 3:31 PM</span><span class="t" style="left:1879.6px;top:1298.7px;font-size:20.5px;font-weight:400;color:#666;transform:scaleX(1.0470);transform-origin:0 0;">Aug 6, 2024, 3:31 PM</span><span class="t" style="left:2161.3px;top:1298.7px;font-size:20.5px;font-weight:400;color:#666;transform:scaleX(1.0470);transform-origin:0 0;">Aug 7, 2024, 3:31 PM</span><span class="t" style="left:2443.0px;top:1298.7px;font-size:20.5px;font-weight:400;color:#666;transform:scaleX(1.0470);transform-origin:0 0;">Aug 8, 2024, 3:31 PM</span><span class="t" style="left:2687.3px;top:1298.7px;font-size:20.5px;font-weight:400;color:#666;transform:scaleX(1.0470);transform-origin:0 0;">Aug 9, 2024, 3:31 PM</span>
<span class="t" style="left:1403.1px;top:1338.9px;font-size:20.6px;font-weight:400;color:#7147e8;transform:scaleX(0.9935);transform-origin:0 0;">likeCount</span>
<span class="t" style="left:1537.6px;top:1338.9px;font-size:20.6px;font-weight:400;color:#f24822;transform:scaleX(1.0161);transform-origin:0 0;">Incident</span>
<!-- bottom fade -->
<div class="a" style="left:0;top:1328px;width:2943px;height:96px;background:linear-gradient(to bottom,rgba(40,40,50,0) 0%,rgba(40,40,50,0.012) 45%,rgba(40,40,50,0.035) 75%,rgba(40,40,50,0.06) 100%)"></div>
<!-- bot -->
<div class="a" style="left:2874.1px;top:1332.6px;width:68.2px;height:68.2px;border-radius:50%;background:#fff;box-shadow:0 0 8px 2px rgba(40,100,220,0.35)"></div>
<div class="a" style="left:2877.4px;top:1335.9px;width:61.6px;height:61.6px;border-radius:50%;background:#0c4fc8"></div>
<svg style="left:0;top:0" width="10" height="10">
<path d="M2908.2,1352.5 V1356.8" stroke="#fff" stroke-width="1.6"/>
<circle cx="2908.2" cy="1350.3" r="2" fill="#fff"/>
<path d="M2894,1356.6 H2922.3 Q2926,1356.6 2926.3,1360.3 Q2929,1361 2929,1368.8 Q2929,1376.5 2926.3,1377.3 Q2926,1381.2 2922.3,1381.2 H2911.6 L2909.8,1384.6 L2907.6,1381.2 H2894 Q2890.4,1381.2 2890.1,1377.3 Q2887.4,1376.5 2887.4,1368.8 Q2887.4,1361 2890.1,1360.3 Q2890.4,1356.6 2894,1356.6 Z" fill="#fff"/>
<rect x="2895" y="1362.7" width="26" height="13.3" rx="3.5" fill="#cfe4fb"/>
<circle cx="2902" cy="1369.5" r="1.8" fill="#0c4fc8"/><circle cx="2914.5" cy="1369.5" r="1.8" fill="#0c4fc8"/>
</svg>
</body></html>
